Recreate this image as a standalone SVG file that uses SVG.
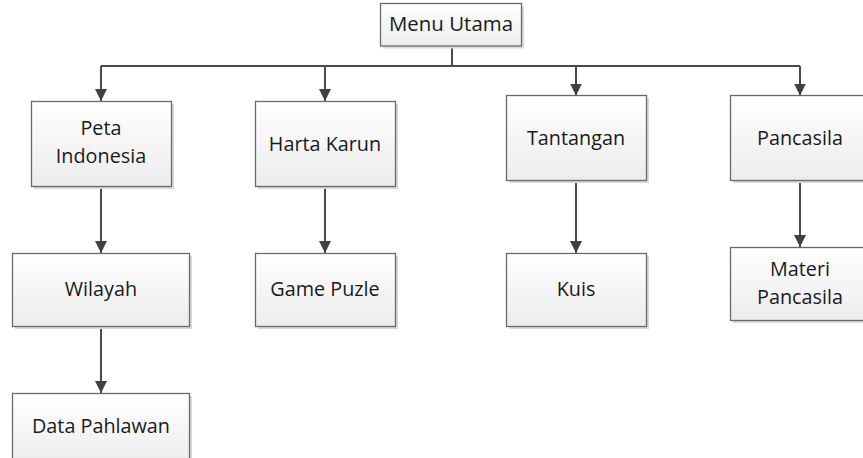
<svg xmlns="http://www.w3.org/2000/svg" width="863" height="458" viewBox="0 0 863 458">
<style>
.box{fill:url(#g);stroke:#6a6a6a;stroke-width:1.3}
.sh{fill:#d9d9d9}
.t{font-family:"Open Sans","Liberation Sans",sans-serif;font-size:19.8px;fill:#1a1a1a;text-anchor:middle}
.c{fill:none;stroke:#4a4a4a;stroke-width:2}
</style>
<defs>
<linearGradient id="g" x1="0" y1="0" x2="0" y2="1">
<stop offset="0" stop-color="#ffffff"/>
<stop offset="1" stop-color="#ececec"/>
</linearGradient>
<marker id="a" markerWidth="12" markerHeight="12" viewBox="0 0 12 12" refX="12" refY="6" orient="auto" markerUnits="userSpaceOnUse">
<path d="M0,0 L12,6 L0,12 Z" fill="#404040"/>
</marker>
</defs>
<g id="connectors">
<path class="c" d="M452,46 V66"/>
<path class="c" d="M101,66 H800"/>
<path class="c" d="M101,66 V101" marker-end="url(#a)"/>
<path class="c" d="M325,66 V101" marker-end="url(#a)"/>
<path class="c" d="M576,66 V95.5" marker-end="url(#a)"/>
<path class="c" d="M800,66 V95.5" marker-end="url(#a)"/>
<path class="c" d="M101,187 V253" marker-end="url(#a)"/>
<path class="c" d="M101,326 V393" marker-end="url(#a)"/>
<path class="c" d="M325,187 V253" marker-end="url(#a)"/>
<path class="c" d="M576,180 V253" marker-end="url(#a)"/>
<path class="c" d="M800,180 V247" marker-end="url(#a)"/>
</g>
<g id="menu-utama">
<rect class="sh" x="383" y="6" width="141" height="42.5"/>
<rect class="box" x="380.5" y="3.5" width="141" height="42.5"/>
<text class="t" x="451" y="31" font-size="21.5" textLength="124" lengthAdjust="spacingAndGlyphs">Menu Utama</text>
</g>
<g id="peta-indonesia">
<rect class="sh" x="34" y="104" width="140" height="85"/>
<rect class="box" x="31.5" y="101.5" width="140" height="85"/>
<text class="t" x="101" y="135">Peta</text>
<text class="t" x="101" y="163">Indonesia</text>
</g>
<g id="harta-karun">
<rect class="sh" x="258" y="104" width="140" height="85"/>
<rect class="box" x="255.5" y="101.5" width="140" height="85"/>
<text class="t" x="325" y="150.5">Harta Karun</text>
</g>
<g id="tantangan">
<rect class="sh" x="509" y="98" width="140" height="85"/>
<rect class="box" x="506.5" y="95.5" width="140" height="85"/>
<text class="t" x="576" y="145">Tantangan</text>
</g>
<g id="pancasila">
<rect class="sh" x="733" y="98" width="140" height="85"/>
<rect class="box" x="730.5" y="95.5" width="140" height="85"/>
<text class="t" x="800" y="145">Pancasila</text>
</g>
<g id="wilayah">
<rect class="sh" x="15" y="256" width="177" height="73"/>
<rect class="box" x="12.5" y="253.5" width="177" height="73"/>
<text class="t" x="101" y="296">Wilayah</text>
</g>
<g id="game-puzle">
<rect class="sh" x="258" y="256" width="140" height="73"/>
<rect class="box" x="255.5" y="253.5" width="140" height="73"/>
<text class="t" x="325" y="296">Game Puzle</text>
</g>
<g id="kuis">
<rect class="sh" x="509" y="256" width="140" height="73"/>
<rect class="box" x="506.5" y="253.5" width="140" height="73"/>
<text class="t" x="576" y="296">Kuis</text>
</g>
<g id="materi-pancasila">
<rect class="sh" x="733" y="250" width="140" height="73"/>
<rect class="box" x="730.5" y="247.5" width="140" height="73"/>
<text class="t" x="800" y="276">Materi</text>
<text class="t" x="800" y="304">Pancasila</text>
</g>
<g id="data-pahlawan">
<rect class="sh" x="15" y="396" width="177" height="73"/>
<rect class="box" x="12.5" y="393.5" width="177" height="73"/>
<text class="t" x="101" y="433">Data Pahlawan</text>
</g>
</svg>
